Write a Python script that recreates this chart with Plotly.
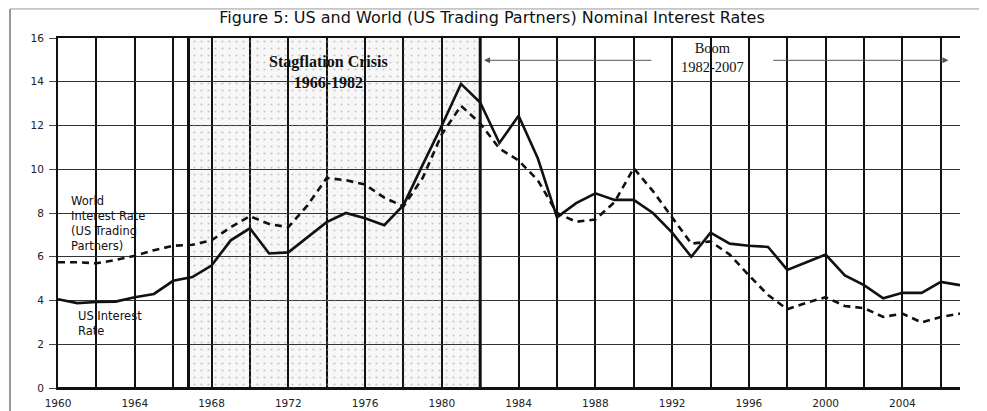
import plotly.graph_objects as go

years = list(range(1960, 2008))

us_rate = [4.06, 3.88, 3.93, 3.95, 4.15, 4.3, 4.9, 5.07, 5.6, 6.75,
           7.3, 6.15, 6.2, 6.9, 7.58, 8.0, 7.76, 7.44, 8.36, 10.2,
           12.0, 13.9, 13.05, 11.2, 12.45, 10.5, 7.8, 8.45, 8.9, 8.6,
           8.6, 8.0, 7.1, 6.0, 7.1, 6.6, 6.5, 6.45, 5.4, 5.75,
           6.1, 5.15, 4.7, 4.1, 4.35, 4.35, 4.85, 4.7]

world_rate = [5.75, 5.75, 5.7, 5.85, 6.05, 6.3, 6.5, 6.55, 6.75, 7.35,
              7.85, 7.5, 7.35, 8.35, 9.6, 9.5, 9.3, 8.7, 8.3, 9.6,
              11.6, 12.9, 12.1, 10.95, 10.4, 9.5, 8.0, 7.6, 7.7, 8.5,
              10.05, 9.0, 7.8, 6.6, 6.7, 6.1, 5.15, 4.25, 3.6, 3.9,
              4.15, 3.75, 3.65, 3.25, 3.4, 3.0, 3.25, 3.4]

crisis_period = [1966.8, 1982.0]
boom_arrow_left = [1991.0, 1982.2]
boom_arrow_right = [1997.2, 2006.4]

fig = go.Figure()

# stippled crisis band
fig.add_shape(type="rect", xref="x", yref="y", x0=crisis_period[0], x1=crisis_period[1],
              y0=0, y1=16, fillcolor="rgba(0,0,0,0.03)", line_width=0, layer="below")
fig.add_trace(go.Bar(x=[(crisis_period[0] + crisis_period[1]) / 2], y=[16],
                     width=[crisis_period[1] - crisis_period[0]],
                     marker=dict(color="rgba(0,0,0,0)", line_width=0,
                                 pattern=dict(shape=".", fgcolor="#9a9a9a", size=7, solidity=0.08)),
                     hoverinfo="skip", showlegend=False))

fig.add_trace(go.Scatter(x=years, y=world_rate, mode="lines",
                         line=dict(color="#111", width=2.6, dash="7px,5px"),
                         showlegend=False))
fig.add_trace(go.Scatter(x=years, y=us_rate, mode="lines",
                         line=dict(color="#111", width=2.6),
                         showlegend=False))

# thicker boundary lines of the crisis band
for xv in crisis_period:
    fig.add_shape(type="line", xref="x", yref="y", x0=xv, x1=xv, y0=0, y1=16,
                  line=dict(color="#111", width=3), layer="above")

# the page body adds an 8px offset, so the figure is 8px smaller on each side
fig.update_layout(
    width=979, height=403,
    margin=dict(l=50, r=27, t=30, b=23, autoexpand=False),
    paper_bgcolor="white", plot_bgcolor="white",
    bargap=0,
    title=dict(text="Figure 5: US and World (US Trading Partners) Nominal Interest Rates",
               x=0.4944, xanchor="center", y=0.9777, yanchor="middle", automargin=False,
               font=dict(family="DejaVu Sans", size=16, color="#111")),
    font=dict(family="DejaVu Sans", color="#111"),
)

fig.update_xaxes(range=[1960, 2007], tickmode="linear", tick0=1960, dtick=4,
                 showgrid=True, gridcolor="#111", gridwidth=2.2, automargin=False,
                 minor=dict(tick0=1960, dtick=2, showgrid=True, gridcolor="#111", gridwidth=2.2),
                 showline=True, linecolor="#111", linewidth=2.2, mirror=True,
                 ticks="", ticklabelstandoff=4,
                 tickfont=dict(size=10.5, family="DejaVu Sans", color="#222"),
                 zeroline=False)
fig.update_yaxes(range=[0, 16], tickmode="linear", tick0=0, dtick=2, automargin=False,
                 showgrid=True, gridcolor="#333", gridwidth=1.3,
                 showline=True, linecolor="#111", linewidth=2, mirror=False,
                 ticks="outside", ticklen=7, tickcolor="#444", tickwidth=1,
                 ticklabelstandoff=3,
                 tickfont=dict(size=10.5, family="DejaVu Sans", color="#222"),
                 zeroline=True, zerolinecolor="#111", zerolinewidth=2)

# text annotations
fig.add_annotation(x=1974.1, y=14.45, xref="x", yref="y",
                   text="<b>Stagflation Crisis</b><br><b>1966-1982</b>",
                   showarrow=False, font=dict(family="Liberation Serif", size=16, color="#111"))
fig.add_annotation(x=1994.1, y=15.1, xref="x", yref="y", text="Boom<br>1982-2007",
                   showarrow=False, font=dict(family="Liberation Serif", size=14.5, color="#111"))
fig.add_annotation(x=boom_arrow_left[1], y=14.98, ax=boom_arrow_left[0], ay=14.98,
                   xref="x", yref="y", axref="x", ayref="y", text="", showarrow=True,
                   arrowhead=2, arrowsize=1.2, arrowwidth=1, arrowcolor="#555")
fig.add_annotation(x=boom_arrow_right[1], y=14.98, ax=boom_arrow_right[0], ay=14.98,
                   xref="x", yref="y", axref="x", ayref="y", text="", showarrow=True,
                   arrowhead=2, arrowsize=1.2, arrowwidth=1, arrowcolor="#555")
fig.add_annotation(x=1960.55, y=7.5, xref="x", yref="y", xanchor="left", align="left",
                   text="World<br>Interest Rate<br>(US Trading<br>Partners)",
                   showarrow=False, font=dict(family="DejaVu Sans", size=11.5, color="#111"))
fig.add_annotation(x=1960.95, y=2.93, xref="x", yref="y", xanchor="left", align="left",
                   text="US Interest<br>Rate",
                   showarrow=False, font=dict(family="DejaVu Sans", size=11.5, color="#111"))

# outer frame of the scanned figure
fig.add_shape(type="line", xref="paper", yref="paper", x0=-0.0532, x1=-0.0532, y0=-0.07, y1=1.083,
              line=dict(color="#777", width=1.5))
fig.add_shape(type="line", xref="paper", yref="paper", x0=-0.0532, x1=1.0244, y0=1.083, y1=1.083,
              line=dict(color="#999", width=1))
fig.add_shape(type="line", xref="paper", yref="paper", x0=1.0244, x1=1.0244, y0=0.451, y1=1.083,
              line=dict(color="#777", width=1.2))

fig.write_html("out.html")
